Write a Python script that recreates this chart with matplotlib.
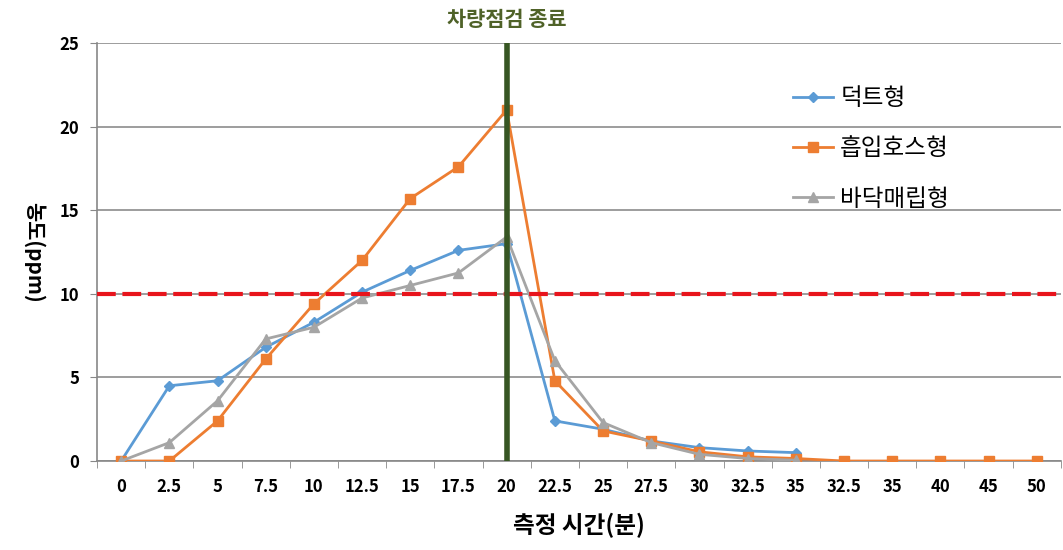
import matplotlib
matplotlib.use('Agg')
import matplotlib.pyplot as plt
import numpy as np

plt.rcParams['font.family'] = ['Noto Sans CJK KR', 'DejaVu Sans']

# x categories (as printed on the axis)
time_labels = ["0", "2.5", "5", "7.5", "10", "12.5", "15", "17.5", "20", "22.5",
               "25", "27.5", "30", "32.5", "35", "32.5", "35", "40", "45", "50"]

duct = [0, 4.5, 4.8, 6.8, 8.3, 10.1, 11.4, 12.6, 13.0, 2.4,
        1.9, 1.2, 0.8, 0.6, 0.5]
hose = [0, 0, 2.4, 6.1, 9.4, 12.0, 15.7, 17.6, 21.0, 4.8,
        1.8, 1.2, 0.55, 0.25, 0.15, 0, 0, 0, 0, 0]
floor = [0, 1.1, 3.6, 7.3, 8.0, 9.75, 10.5, 11.25, 13.4, 6.0,
         2.3, 1.1, 0.4, 0.15, 0.05]

limit_ppm = 10
end_idx = 8   # "20" -> 차량점검 종료

COLOURS = {"duct": "#5B9BD5", "hose": "#ED7D31", "floor": "#A5A5A5"}

fig = plt.figure(figsize=(10.63, 5.5), dpi=100)
ax = fig.add_axes([0.0913, 0.1618, 0.9067, 0.7600])

ax.plot(range(len(duct)), duct, "-D", color=COLOURS["duct"], lw=2, ms=5,
        label="덕트형", zorder=3)
ax.plot(range(len(hose)), hose, "-s", color=COLOURS["hose"], lw=2, ms=7,
        label="흡입호스형", zorder=3)
ax.plot(range(len(floor)), floor, "-^", color=COLOURS["floor"], lw=2, ms=7,
        label="바닥매립형", zorder=3)

ax.axhline(limit_ppm, color="#E8141C", lw=3, ls=(0, (4.5, 1.6)), zorder=4)
ax.axvline(end_idx, color="#375623", lw=4, zorder=5)
ax.text(end_idx, 25.75, "차량점검 종료", ha="center", va="bottom",
        color="#4F6228", fontsize=15, fontweight="bold")

n = len(time_labels)
ax.set_xlim(-0.5, n - 0.5)
ax.set_ylim(0, 25)
ax.set_xticks(range(n))
ax.set_xticklabels(time_labels, fontsize=12, fontweight="bold")
ax.set_xticks(np.arange(-0.5, n, 1), minor=True)
ax.tick_params(axis="x", which="major", length=0, pad=12)
ax.tick_params(axis="x", which="minor", length=5, color="#888888", direction="out")
ax.set_yticks([0, 5, 10, 15, 20, 25])
ax.set_yticklabels([0, 5, 10, 15, 20, 25], fontsize=12, fontweight="bold")
ax.tick_params(axis="y", length=5, color="#888888", pad=8)

ax.yaxis.grid(True, color="#8C8C8C", lw=1.2)
ax.set_axisbelow(True)
for s in ["top", "right"]:
    ax.spines[s].set_visible(False)
ax.spines["left"].set_color("#888888")
ax.spines["bottom"].set_color("#888888")
ax.spines["left"].set_linewidth(1.2)
ax.spines["bottom"].set_linewidth(1.2)

ax.set_xlabel("측정 시간(분)", fontsize=17, fontweight="bold", labelpad=12)
ax.set_ylabel("농도(ppm)", fontsize=15, fontweight="bold", rotation=270,
              labelpad=26, va="bottom")

ax.legend(loc="upper left", bbox_to_anchor=(0.7, 0.945), frameon=False,
          fontsize=17, labelspacing=1.15, handlelength=1.7, handletextpad=0.3)

fig.savefig("out.png", dpi=100)
